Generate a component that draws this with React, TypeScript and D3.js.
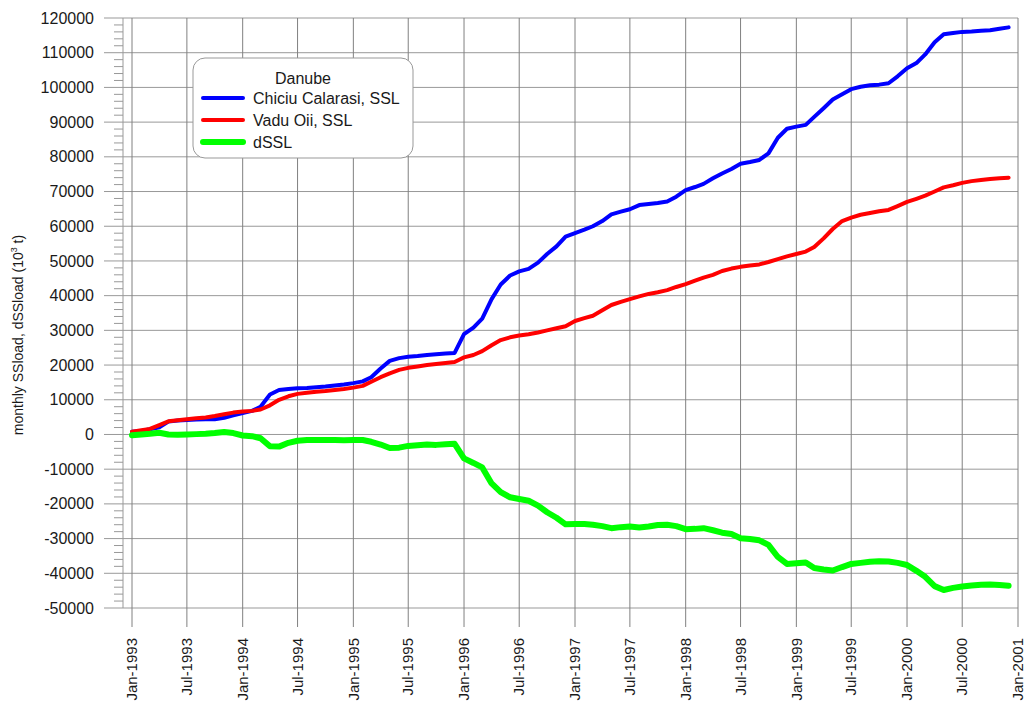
import React from "react";
import * as d3 from "d3";

// monthly values, Jan-1993 .. Dec-2000 (10^3 t)
const chiciu = [
  800, 1000, 1500, 2100, 3700, 4000, 4200, 4300, 4400, 4400, 4800, 5500,
  6200, 6800, 8000, 11500, 12800, 13100, 13300, 13400, 13600, 13800, 14100, 14400,
  14800, 15300, 16500, 19000, 21200, 22000, 22400, 22600, 22900, 23100, 23300, 23500,
  28900, 30800, 33400, 39000, 43200, 45800, 47000, 47700, 49500, 52000, 54200, 57000,
  58000, 59000, 60000, 61500, 63400, 64200, 64900, 66100, 66400, 66700, 67100, 68500,
  70400, 71300, 72200, 73800, 75200, 76500, 78000, 78500, 79100, 81000, 85500, 88100,
  88700, 89200, 91500, 94000, 96500, 98000, 99500, 100200, 100600, 100800, 101200, 103200,
  105500, 107000, 109500, 113000, 115300, 115700, 116000, 116100, 116300, 116500, 116900, 117300,
];
const vaduOii = [
  800, 1200, 1600, 2700, 3800, 4100, 4400, 4700, 4900, 5300, 5800, 6300,
  6600, 6800, 7200, 8400, 10000, 11000, 11700, 12000, 12300, 12500, 12800, 13100,
  13500, 14000, 15200, 16500, 17600, 18600, 19200, 19600, 20000, 20300, 20600, 20900,
  22200, 22900, 24000, 25700, 27200, 28000, 28500, 28900, 29400, 30000, 30600, 31200,
  32700, 33500, 34200, 35800, 37300, 38200, 39000, 39800, 40500, 41000, 41600, 42500,
  43300, 44300, 45200, 46000, 47100, 47800, 48300, 48700, 49000, 49700, 50500, 51300,
  52000, 52700, 54000, 56500, 59200, 61500, 62500, 63300, 63800, 64300, 64700, 65800,
  67000, 67900, 68800, 70000, 71200, 71800, 72500, 73000, 73300, 73600, 73800, 74000,
];
const dssl = [
  -200, 0, 200, 500, 0, -100, 0, 100, 200, 400, 700, 400,
  -300, -500, -1100, -3400, -3500, -2400, -1800, -1600, -1600, -1600, -1600, -1700,
  -1600, -1600, -2100, -2900, -3900, -3800, -3300, -3100, -2900, -3000, -2800, -2700,
  -6900, -8200, -9500, -14100, -16600, -18100, -18600, -19100, -20500, -22400, -24000, -25900,
  -25800, -25800, -26000, -26400, -27000, -26700, -26500, -26800, -26500, -26100, -26000, -26400,
  -27300, -27200, -27000, -27600, -28300, -28700, -29900, -30100, -30500, -31800, -35300, -37300,
  -37100, -36900, -38500, -38900, -39200, -38200, -37300, -37000, -36700, -36500, -36600, -37000,
  -37600, -39300, -41000, -43700, -44800, -44200, -43800, -43500, -43300, -43200, -43400, -43600,
];

const seriesNames = ["Chiciu Calarasi, SSL", "Vadu Oii, SSL", "dSSL"];
const seriesColors = ["#0000ff", "#ff0000", "#00ff00"];
const seriesWidths = [4, 4, 6];
const legendTitle = "Danube";

const monthNames = ["Jan", "Feb", "Mar", "Apr", "May", "Jun", "Jul", "Aug", "Sep", "Oct", "Nov", "Dec"];

const W = 1027;
const H = 707;
const font = "Arial, 'Liberation Sans', sans-serif";

export default function App() {
  const x = d3.scaleTime()
    .domain([new Date(1993, 0, 1), new Date(2001, 0, 1)])
    .range([132, 1018]);
  const y = d3.scaleLinear().domain([-50000, 120000]).range([608, 18]);

  const xTicks = d3.timeMonth.every(6)!.range(new Date(1993, 0, 1), new Date(2001, 0, 2));
  const yTicks = d3.range(-50000, 120001, 10000);
  const yMinor = d3.range(-50000, 120001, 2000).filter((v) => v % 10000 !== 0);

  const all = [chiciu, vaduOii, dssl];
  const line = d3.line<number>()
    .x((_, i) => x(new Date(1993, i, 1)))
    .y((d) => y(d));

  const fmtTick = (d: Date) => `${monthNames[d.getMonth()]}-${d.getFullYear()}`;

  return (
    <svg width={W} height={H} style={{ position: "absolute", left: 0, top: 0, background: "#fff" }}
      fontFamily={font}>
      {/* horizontal grid */}
      {yTicks.map((v) => (
        <line key={"h" + v} x1={104} x2={1018} y1={y(v)} y2={y(v)} stroke="#999" strokeWidth={1} />
      ))}
      {/* vertical grid */}
      {xTicks.map((d) => (
        <line key={"v" + d.getTime()} x1={x(d)} x2={x(d)} y1={18} y2={627} stroke="#808080" strokeWidth={1} />
      ))}
      {/* y axis with minor ticks */}
      <line x1={123} x2={123} y1={18} y2={608} stroke="#999" />
      {yMinor.map((v) => (
        <line key={"m" + v} x1={114} x2={123} y1={y(v)} y2={y(v)} stroke="#999" />
      ))}
      {yTicks.map((v) => (
        <text key={"yl" + v} x={94} y={y(v)} dy="0.35em" textAnchor="end" fontSize={16} fill="#1a1a1a">
          {v}
        </text>
      ))}
      {xTicks.map((d) => (
        <text key={"xl" + d.getTime()} transform={`translate(${x(d)},638) rotate(-90)`} dy="0.35em"
          textAnchor="end" fontSize={15} fill="#1a1a1a">
          {fmtTick(d)}
        </text>
      ))}
      <text transform="translate(18,335) rotate(-90)" textAnchor="middle" dy="0.35em" fontSize={14} fill="#1a1a1a">
        monthly SSload, dSSload (10<tspan fontSize={9} dy="-6">3</tspan><tspan dy="6"> t)</tspan>
      </text>

      {/* series */}
      {all.map((s, k) => (
        <path key={"s" + k} d={line(s) || ""} fill="none" stroke={seriesColors[k]}
          strokeWidth={seriesWidths[k]} strokeLinejoin="round" strokeLinecap="round" />
      ))}

      {/* legend */}
      <rect x={193} y={58} width={220} height={100} rx={12} fill="#fff" stroke="#999" />
      <text x={303} y={78} dy="0.35em" textAnchor="middle" fontSize={16} fill="#1a1a1a">{legendTitle}</text>
      {seriesNames.map((n, k) => (
        <g key={"lg" + k}>
          <line x1={203} x2={243} y1={98 + k * 22} y2={98 + k * 22} stroke={seriesColors[k]}
            strokeWidth={seriesWidths[k]} strokeLinecap="round" />
          <text x={253} y={98 + k * 22} dy="0.35em" fontSize={16} fill="#1a1a1a">{n}</text>
        </g>
      ))}
    </svg>
  );
}
